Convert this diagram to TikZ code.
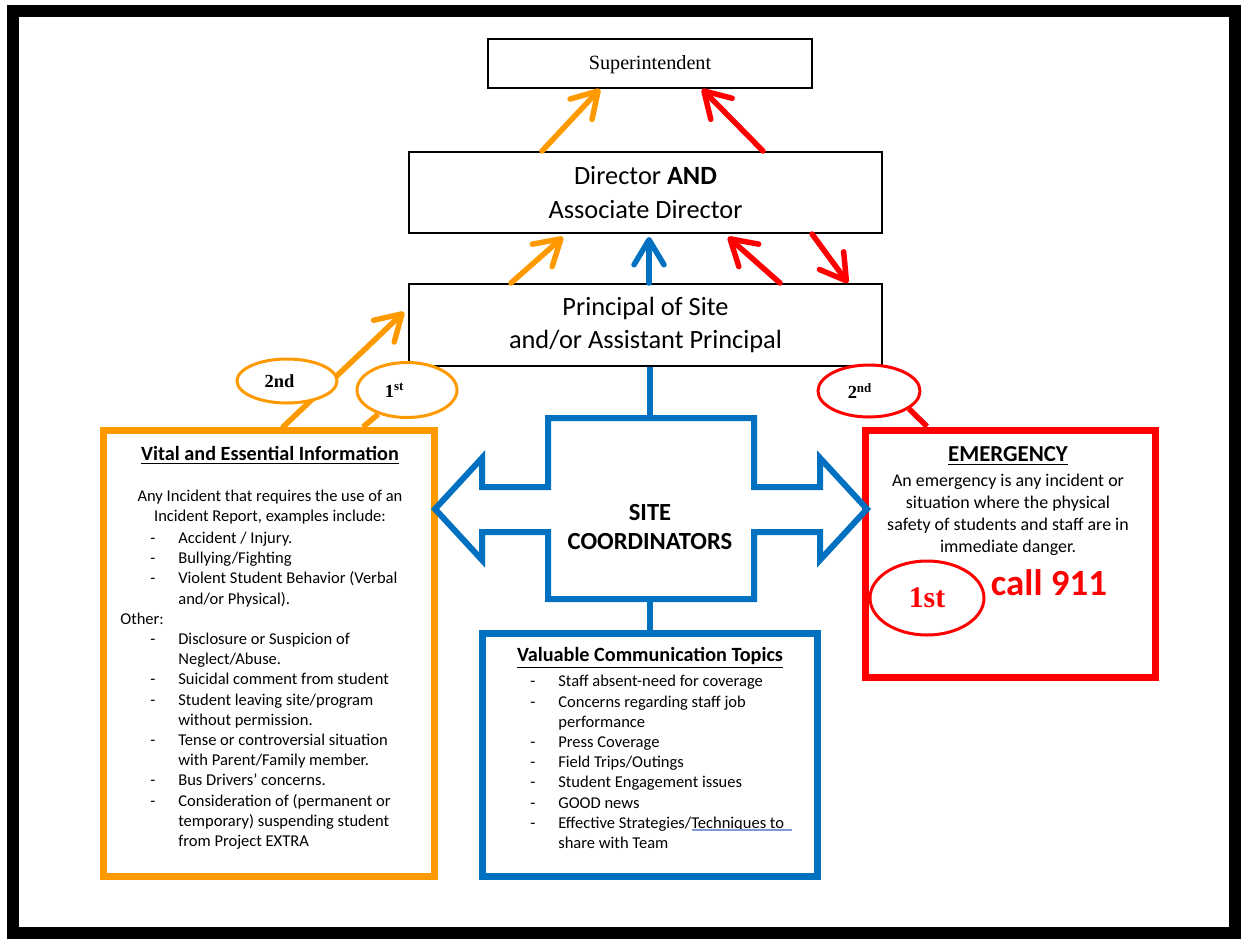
\documentclass[tikz,border=0pt]{standalone}
\usepackage{fontspec}
\setmainfont{Carlito}
\newfontfamily\timesfont{Liberation Serif}
\usepackage{tikz}
\usetikzlibrary{positioning,arrows.meta,shapes.geometric}
\usepackage{xcolor}
\definecolor{flowor}{RGB}{255,153,0}
\definecolor{flowbl}{RGB}{0,112,192}
\definecolor{flowrd}{RGB}{255,0,0}
\definecolor{spellbl}{RGB}{125,155,220}
\newcommand{\dashitem}{\makebox[0.56cm][l]{-}}
\newcommand{\dashcont}{\hspace*{0.56cm}}

\begin{document}
\begin{tikzpicture}[>={Straight Barb[length=5mm,width=6mm,round]},
  chainbox/.style={draw=black,line width=0.04cm,minimum width=9.46cm,minimum height=1.62cm,inner sep=0pt,align=center,font=\fontsize{15}{19}\selectfont},
  infobox/.style={draw=#1,line width=0.14cm,inner sep=0pt},
  tagoval/.style={ellipse,draw=#1,line width=0.06cm,fill=white,inner sep=0pt,font=\timesfont\bfseries\fontsize{10.5}{12}\selectfont},
  flowarrow/.style={->,draw=#1,line width=0.11cm,line cap=round},
  flowline/.style={draw=#1,line width=0.11cm},
  boxtitle/.style={inner sep=0pt,font=\bfseries\fontsize{11.5}{13}\selectfont},
  listtext/.style={anchor=base west,align=left,inner sep=0pt,font=\fontsize{9.4}{11.5}\selectfont}]
\useasboundingbox (0,0) rectangle (24.82,-18.78);
\draw[line width=0.24cm] (0.26,-0.22) rectangle (24.7,-18.66);

\node[chainbox,minimum width=6.48cm,minimum height=0.98cm,font=\timesfont\fontsize{11.5}{13}\selectfont] (super) at (13.0,-1.27) {\raisebox{-0.11cm}[0pt][0pt]{Superintendent}};
\node[chainbox] (director) at (12.91,-3.85) {Director \textbf{AND}\\Associate Director};
\node[chainbox,minimum height=1.64cm] (principal) at (12.91,-6.5) {Principal of Site\\and/or Assistant Principal};

\draw[flowarrow=flowor] ([xshift=-2.07cm]director.north) -- ([xshift=-1.0cm]super.south);
\draw[flowarrow=flowrd] ([xshift=2.35cm]director.north) -- ([xshift=1.04cm]super.south);
\draw[flowarrow=flowor] ([xshift=-2.69cm]principal.north) -- ([xshift=-1.65cm,yshift=-0.06cm]director.south);
\draw[flowarrow=flowbl] ([xshift=0.07cm]principal.north) -- ([xshift=0.07cm,yshift=-0.06cm]director.south);
\draw[flowarrow=flowrd] ([xshift=2.69cm]principal.north) -- ([xshift=1.65cm,yshift=-0.06cm]director.south);
\draw[flowarrow=flowrd] ([xshift=3.33cm]director.south) -- ([xshift=4.05cm]principal.north);

\node[infobox=flowor,minimum width=6.62cm,minimum height=8.92cm] (vital) at (5.38,-13.07) {};
\node[infobox=flowrd,minimum width=5.8cm,minimum height=4.94cm] (emerg) at (20.2,-11.07) {};
\node[infobox=flowbl,minimum width=6.7cm,minimum height=4.86cm] (topics) at (13.0,-15.1) {};

\draw[flowarrow=flowor] ([xshift=0.28cm]vital.north) -- ([xshift=-0.08cm,yshift=0.26cm]principal.west);
\node[tagoval=flowor,minimum width=2.0cm,minimum height=0.88cm] (orsecond) at (5.74,-7.62) {2nd\hspace*{0.3cm}};
\node[tagoval=flowor,minimum width=2.0cm,minimum height=1.1cm] (orfirst) at (8.14,-7.8) {1\textsuperscript{st}\hspace*{0.5cm}};
\draw[flowline=flowor] (orfirst.220) -- ([xshift=1.88cm]vital.north);
\node[tagoval=flowrd,minimum width=2.04cm,minimum height=1.04cm] (rdsecond) at (17.38,-7.82) {2\textsuperscript{nd}\hspace*{0.36cm}};
\draw[flowline=flowrd] (rdsecond.336) -- ([xshift=-1.66cm]emerg.north);

\draw[flowbl,line width=0.12cm,line join=miter] (10.96,-8.36) -- (15.08,-8.36) -- (15.08,-9.74) -- (16.4,-9.74) -- (16.4,-9.16) -- (17.34,-10.18) -- (16.4,-11.2) -- (16.4,-10.64) -- (15.08,-10.64) -- (15.08,-11.98) -- (10.96,-11.98) -- (10.96,-10.64) -- (9.64,-10.64) -- (9.64,-11.2) -- (8.7,-10.18) -- (9.64,-9.16) -- (9.64,-9.74) -- (10.96,-9.74) -- cycle;
\coordinate (hubtop) at (13.0,-8.36);
\coordinate (hubbot) at (13.0,-11.98);
\node[align=center,inner sep=0pt,font=\bfseries\fontsize{14}{17}\selectfont] (hub) at (13.0,-10.54) {SITE\\COORDINATORS};
\draw[flowline=flowbl] (principal.south -| hubtop) -- (hubtop);
\draw[flowline=flowbl] (hubbot) -- (topics.north);

\node[boxtitle] (vitaltitle) at (5.4,-9.1) {\underline{Vital and Essential Information}};
\node[align=center,inner sep=0pt,font=\fontsize{9.4}{11.5}\selectfont] (vitalintro) at (5.4,-10.14) {Any Incident that requires the use of an\\Incident Report, examples include:};
\node[listtext] (vitallist) at (3.0,-16.93) {\dashitem Accident / Injury.\\
\dashitem Bullying/Fighting\\
\dashitem Violent Student Behavior (Verbal\\
\dashcont and/or Physical).\\
\hspace*{-0.6cm}Other:\\
\dashitem Disclosure or Suspicion of\\
\dashcont Neglect/Abuse.\\
\dashitem Suicidal comment from student\\
\dashitem Student leaving site/program\\
\dashcont without permission.\\
\dashitem Tense or controversial situation\\
\dashcont with Parent/Family member.\\
\dashitem Bus Drivers' concerns.\\
\dashitem Consideration of (permanent or\\
\dashcont temporary) suspending student\\
\dashcont from Project EXTRA};

\node[boxtitle] (topicstitle) at (13.0,-13.16) {\underline{Valuable Communication Topics}};
\node[listtext] (topicslist) at (10.6,-16.97) {\dashitem Staff absent-need for coverage\\
\dashitem Concerns regarding staff job\\
\dashcont performance\\
\dashitem Press Coverage\\
\dashitem Field Trips/Outings\\
\dashitem Student Engagement issues\\
\dashitem GOOD news\\
\dashitem Effective Strategies/Techniques to\\
\dashcont share with Team};
\draw[spellbl,line width=0.04cm] (13.84,-16.6) -- (15.84,-16.6);

\node[boxtitle,font=\bfseries\fontsize{13}{15}\selectfont] (emergtitle) at (20.16,-9.12) {\underline{EMERGENCY}};
\node[align=center,inner sep=0pt,font=\fontsize{10.2}{12.5}\selectfont] (emergbody) at (20.16,-10.3) {An emergency is any incident or\\situation where the physical\\safety of students and staff are in\\immediate danger.};
\node[tagoval=flowrd,minimum width=2.28cm,minimum height=1.48cm,text=flowrd,font=\timesfont\bfseries\fontsize{17}{19}\selectfont] (rdfirst) at (18.54,-11.96) {1st};
\node[inner sep=0pt,text=flowrd,font=\bfseries\fontsize{21}{24}\selectfont] (callnum) at (20.98,-11.66) {call 911};
\end{tikzpicture}
\end{document}
